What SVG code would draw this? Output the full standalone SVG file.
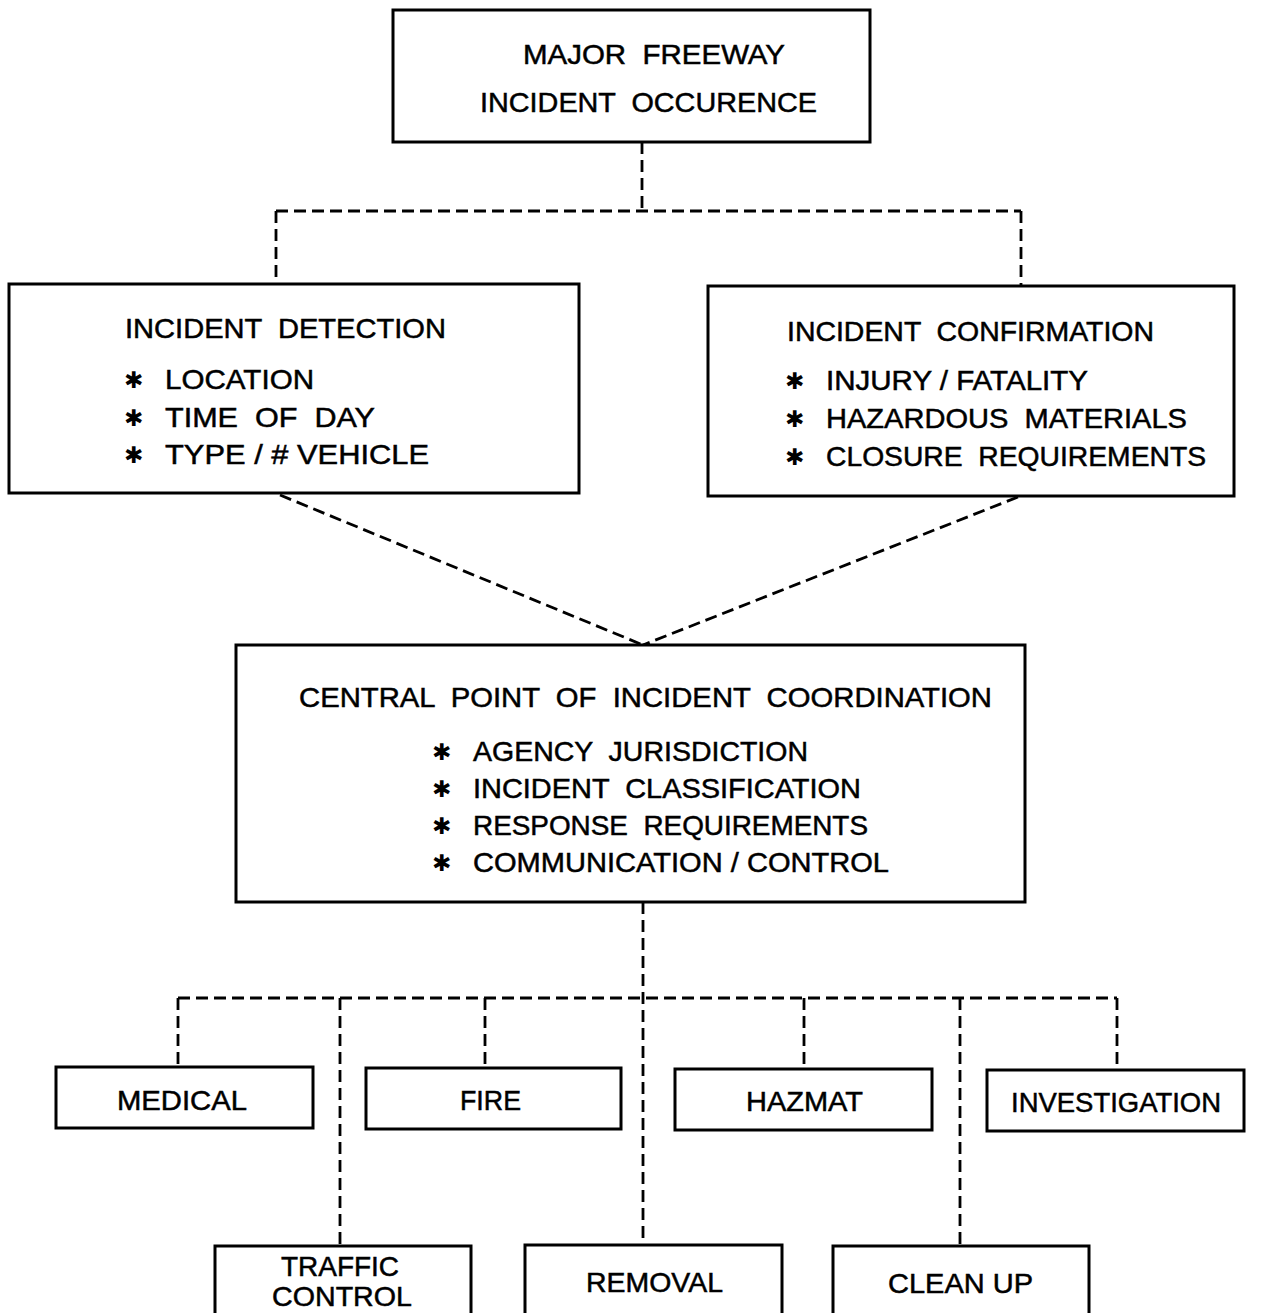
<svg xmlns="http://www.w3.org/2000/svg" width="1278" height="1313" viewBox="0 0 1278 1313">
<style>
.box{fill:#fff;stroke:#000;stroke-width:3}
.t{font-family:"Liberation Sans",Arial,sans-serif;font-size:28px;fill:#000;stroke:#000;stroke-width:0.5;white-space:pre}
.b{font-family:"DejaVu Sans",sans-serif;font-size:23px;fill:#000}
.d{fill:none;stroke:#000;stroke-width:2.8;stroke-dasharray:12 6}
</style>
<rect width="1278" height="1313" fill="#fff"/>
<g id="connectors">
<path class="d" d="M642 142 V211"/>
<path class="d" d="M276 211 H1021"/>
<path class="d" d="M276 211 V284"/>
<path class="d" d="M1021 211 V286"/>
<path class="d" d="M280 495 L643 645"/>
<path class="d" d="M1018 497 L643 645"/>
<path class="d" d="M643 902 V1245"/>
<path class="d" d="M178 998 H1117"/>
<path class="d" d="M178 998 V1067"/>
<path class="d" d="M340 998 V1246"/>
<path class="d" d="M485 998 V1068"/>
<path class="d" d="M804 998 V1068"/>
<path class="d" d="M960 998 V1246"/>
<path class="d" d="M1117 998 V1070"/>
</g>
<g id="occurrence">
<rect class="box" x="393" y="10" width="477" height="132"/>
<text class="t" x="523" y="64" textLength="262" lengthAdjust="spacingAndGlyphs">MAJOR  FREEWAY</text>
<text class="t" x="480" y="112" textLength="337" lengthAdjust="spacingAndGlyphs">INCIDENT  OCCURENCE</text>
</g>
<g id="detection">
<rect class="box" x="9" y="284" width="570" height="209"/>
<text class="t" x="125" y="338" textLength="321" lengthAdjust="spacingAndGlyphs">INCIDENT  DETECTION</text>
<text class="b" x="124" y="388">✱</text>
<text class="t" x="165" y="389" textLength="149" lengthAdjust="spacingAndGlyphs">LOCATION</text>
<text class="b" x="124" y="426">✱</text>
<text class="t" x="165" y="427" textLength="210" lengthAdjust="spacingAndGlyphs">TIME  OF  DAY</text>
<text class="b" x="124" y="463">✱</text>
<text class="t" x="165" y="464" textLength="264" lengthAdjust="spacingAndGlyphs">TYPE / # VEHICLE</text>
</g>
<g id="confirmation">
<rect class="box" x="708" y="286" width="526" height="210"/>
<text class="t" x="787" y="341" textLength="367" lengthAdjust="spacingAndGlyphs">INCIDENT  CONFIRMATION</text>
<text class="b" x="785" y="389">✱</text>
<text class="t" x="826" y="390" textLength="262" lengthAdjust="spacingAndGlyphs">INJURY / FATALITY</text>
<text class="b" x="785" y="427">✱</text>
<text class="t" x="826" y="428" textLength="361" lengthAdjust="spacingAndGlyphs">HAZARDOUS  MATERIALS</text>
<text class="b" x="785" y="465">✱</text>
<text class="t" x="826" y="466" textLength="380" lengthAdjust="spacingAndGlyphs">CLOSURE  REQUIREMENTS</text>
</g>
<g id="central">
<rect class="box" x="236" y="645" width="789" height="257"/>
<text class="t" x="299" y="707" textLength="693" lengthAdjust="spacingAndGlyphs">CENTRAL  POINT  OF  INCIDENT  COORDINATION</text>
<text class="b" x="432" y="760">✱</text>
<text class="t" x="473" y="761" textLength="335" lengthAdjust="spacingAndGlyphs">AGENCY  JURISDICTION</text>
<text class="b" x="432" y="797">✱</text>
<text class="t" x="473" y="798" textLength="388" lengthAdjust="spacingAndGlyphs">INCIDENT  CLASSIFICATION</text>
<text class="b" x="432" y="834">✱</text>
<text class="t" x="473" y="835" textLength="395" lengthAdjust="spacingAndGlyphs">RESPONSE  REQUIREMENTS</text>
<text class="b" x="432" y="871">✱</text>
<text class="t" x="473" y="872" textLength="416" lengthAdjust="spacingAndGlyphs">COMMUNICATION / CONTROL</text>
</g>
<g id="medical">
<rect class="box" x="56" y="1067" width="257" height="61"/>
<text class="t" x="117" y="1110" textLength="130" lengthAdjust="spacingAndGlyphs">MEDICAL</text>
</g>
<g id="fire">
<rect class="box" x="366" y="1068" width="255" height="61"/>
<text class="t" x="460" y="1110" textLength="61" lengthAdjust="spacingAndGlyphs">FIRE</text>
</g>
<g id="hazmat">
<rect class="box" x="675" y="1069" width="257" height="61"/>
<text class="t" x="746" y="1111" textLength="117" lengthAdjust="spacingAndGlyphs">HAZMAT</text>
</g>
<g id="investigation">
<rect class="box" x="987" y="1070" width="257" height="61"/>
<text class="t" x="1011" y="1112" textLength="210" lengthAdjust="spacingAndGlyphs">INVESTIGATION</text>
</g>
<g id="traffic">
<rect class="box" x="215" y="1246" width="256" height="70"/>
<text class="t" x="281" y="1276" textLength="118" lengthAdjust="spacingAndGlyphs">TRAFFIC</text>
<text class="t" x="272" y="1306" textLength="140" lengthAdjust="spacingAndGlyphs">CONTROL</text>
</g>
<g id="removal">
<rect class="box" x="525" y="1245" width="257" height="70"/>
<text class="t" x="586" y="1292" textLength="137" lengthAdjust="spacingAndGlyphs">REMOVAL</text>
</g>
<g id="cleanup">
<rect class="box" x="833" y="1246" width="256" height="70"/>
<text class="t" x="888" y="1293" textLength="145" lengthAdjust="spacingAndGlyphs">CLEAN UP</text>
</g>
</svg>
